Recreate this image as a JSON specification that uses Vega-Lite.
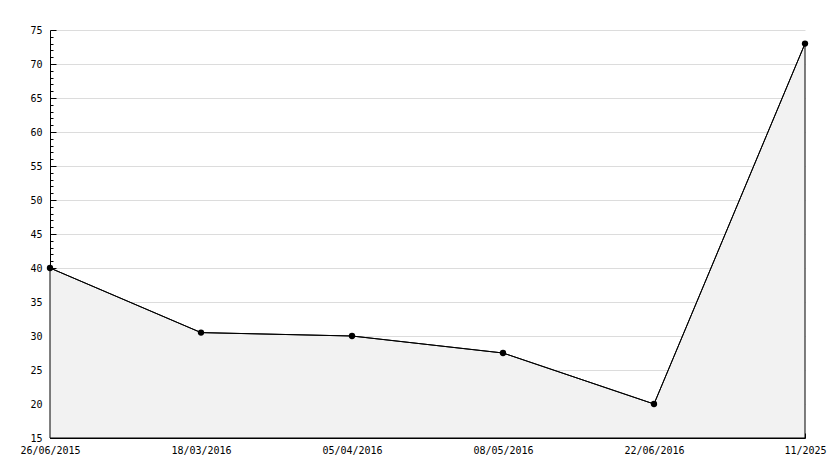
{
  "$schema": "https://vega.github.io/schema/vega-lite/v6.json",
  "width": 755,
  "height": 408,
  "autosize": {"type": "none"},
  "padding": {"left": 50, "top": 30, "right": 29, "bottom": 30},
  "background": "white",
  "config": {
    "view": {"stroke": null},
    "axis": {"labelFont": "DejaVu Sans Mono", "labelFontSize": 10, "labelColor": "#000", "domainColor": "#000", "tickColor": "#000", "titleColor": "#000"}
  },
  "data": {
    "values": [
      {"date": "26/06/2015", "value": 40},
      {"date": "18/03/2016", "value": 30.5},
      {"date": "05/04/2016", "value": 30},
      {"date": "08/05/2016", "value": 27.5},
      {"date": "22/06/2016", "value": 20},
      {"date": "11/2025", "value": 73}
    ]
  },
  "encoding": {
    "x": {
      "field": "date", "type": "ordinal", "sort": null,
      "scale": {"type": "point", "padding": 0},
      "axis": {"title": null, "labelAngle": 0, "grid": false, "tickSize": -5, "labelPadding": 12, "domainColor": "#000"}
    },
    "y": {
      "field": "value", "type": "quantitative",
      "scale": {"domain": [15, 75], "nice": false, "zero": false},
      "axis": {
        "title": null,
        "values": [15,16,17,18,19,20,21,22,23,24,25,26,27,28,29,30,31,32,33,34,35,36,37,38,39,40,41,42,43,44,45,46,47,48,49,50,51,52,53,54,55,56,57,58,59,60,61,62,63,64,65,66,67,68,69,70,71,72,73,74,75],
        "labelExpr": "datum.value % 5 === 0 ? datum.label : ''",
        "tickSize": {"condition": {"test": "datum.value % 5 === 0", "value": -6}, "value": -3},
        "gridOpacity": {"condition": {"test": "datum.value % 5 === 0", "value": 1}, "value": 0},
        "gridColor": "#dcdcdc",
        "labelPadding": 14,
        "labelOverlap": false
      }
    }
  },
  "layer": [
    {"mark": {"type": "area", "color": "#f2f2f2", "stroke": "#000", "strokeWidth": 1}, "encoding": {"y2": {"datum": 15}}},
    {"mark": {"type": "line", "color": "#000", "strokeWidth": 1}},
    {"mark": {"type": "point", "filled": true, "color": "#000", "size": 40, "opacity": 1}}
  ]
}
